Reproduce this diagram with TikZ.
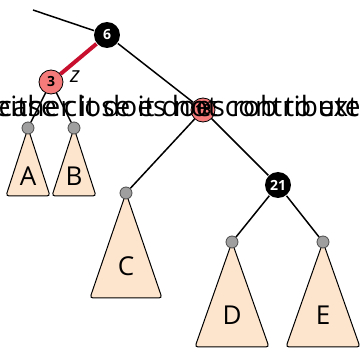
\documentclass[tikz,border=0pt]{standalone}
\usepackage{fontspec}
\setmainfont{Open Sans}
\usetikzlibrary{positioning}

\definecolor{nodered}{RGB}{245,122,122}
\definecolor{edgered}{RGB}{200,16,46}
\definecolor{peach}{RGB}{253,228,205}

\begin{document}
\begin{tikzpicture}[x=0.5pt, y=-0.5pt, line width=0.75pt]
        \tikzset{
          blacknode/.style={circle, fill=black, text=white, font=\bfseries\fontsize{7}{8}\selectfont, minimum size=13pt, inner sep=0pt},
          rednode/.style={circle, draw=black, line width=0.4pt, fill=nodered, font=\bfseries\fontsize{7}{8}\selectfont, minimum size=12pt, inner sep=0pt},
          leafnode/.style={circle, draw=black!70, line width=0.4pt, fill=gray!75, minimum size=6pt, inner sep=0pt},
          subtree/.style={draw=black, line width=0.5pt, fill=peach, rounded corners=1.5pt},
          treelabel/.style={font=\fontsize{13}{15}\selectfont},
          overtext/.style={font=\fontsize{14}{16}\selectfont, inner sep=0pt}
        }
        \useasboundingbox (0,0) rectangle (360,348);

        % positions of the subtree roots
        \coordinate (a) at (28,128);
        \coordinate (b) at (74,128);
        \coordinate (c) at (126,193);
        \coordinate (d) at (232,242);
        \coordinate (e) at (323,242);
        \coordinate (top) at (33,10);

        % subtrees
        \draw[subtree] (a) -- ++(-22,68) -- ++(44,0) -- cycle;
        \draw[subtree] (b) -- ++(-22,68) -- ++(44,0) -- cycle;
        \draw[subtree] (c) -- ++(-36,105) -- ++(72,0) -- cycle;
        \draw[subtree] (d) -- ++(-37,105) -- ++(74,0) -- cycle;
        \draw[subtree] (e) -- ++(-37,105) -- ++(74,0) -- cycle;
        \node[treelabel] (labA) at (28,176) {A};
        \node[treelabel] (labB) at (74,176) {B};
        \node[treelabel] (labC) at (126,266) {C};
        \node[treelabel] (labD) at (232,315) {D};
        \node[treelabel] (labE) at (323,315) {E};

        \node[blacknode] (n6) at (107,35) {6};
        \node[rednode] (n3) at (51,82) {3};
        \node[rednode] (n18) at (203,110) {18};
        \node[blacknode] (n21) at (278,185) {21};
        \node[leafnode] (la) at (a) {};
        \node[leafnode] (lb) at (b) {};
        \node[leafnode] (lc) at (c) {};
        \node[leafnode] (ld) at (d) {};
        \node[leafnode] (le) at (e) {};
        \node[font=\itshape\fontsize{11}{12}\selectfont] (zlab) at (75,77) {z};

        \path[draw]
        (top) edge (n6)
        (n6) edge (n18)
        (n3) edge (la)
        (n3) edge (lb)
        (n18) edge (lc)
        (n18) edge (n21)
        (n21) edge (ld)
        (n21) edge (le);
        \draw[edgered, line width=2pt] (n6) -- (n3);

        % the two texts that lie on top of each other
        \node[overtext, anchor=base west] (txtone) at (-6,117) {either it does not contribute to exp};
        \node[overtext, anchor=base west] (txttwo) at (-2,117) {case close it does rob to ext};
\end{tikzpicture}
\end{document}
